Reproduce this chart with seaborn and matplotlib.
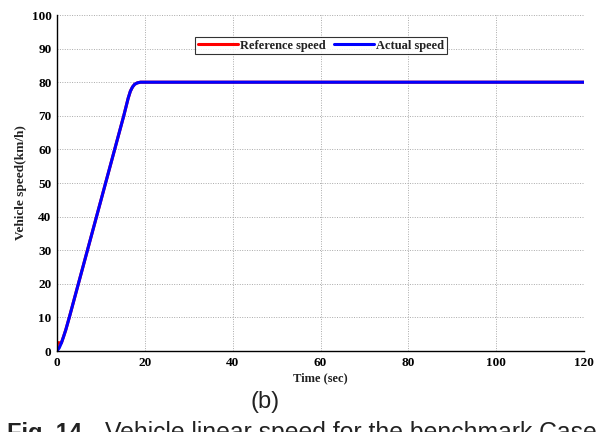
import matplotlib
matplotlib.use("Agg")
import matplotlib.pyplot as plt
import seaborn as sns
import pandas as pd

# Time samples (s) and speeds (km/h)
time_actual = [0, 0.5, 1.0, 1.5, 2.0, 2.8, 15.2, 15.7, 16.2, 16.7, 17.2, 17.7, 18.3, 19.0, 20.0, 120.0]
speed_actual = [0, 0.9, 2.4, 4.3, 6.3, 10, 70, 72.6, 75.2, 77.3, 78.6, 79.4, 79.8, 80, 80, 80]
time_reference = [0, 0.1, 1.0, 1.5, 2.0, 2.8, 15.2, 15.7, 16.2, 16.7, 17.2, 17.7, 18.3, 19.0, 20.0, 120.0]
speed_reference = [0, 2.5, 2.4, 4.3, 6.3, 10, 70, 72.6, 75.2, 77.3, 78.6, 79.4, 79.8, 80, 80, 80]

x_ticks = [0, 20, 40, 60, 80, 100, 120]
y_ticks = [0, 10, 20, 30, 40, 50, 60, 70, 80, 90, 100]

sns.set_style("white")
plt.rcParams["font.family"] = ["Liberation Serif", "DejaVu Serif"]

ref_df = pd.DataFrame({"t": time_reference, "v": speed_reference})
act_df = pd.DataFrame({"t": time_actual, "v": speed_actual})

fig = plt.figure(figsize=(6.03, 4.32), dpi=100)
ax = fig.add_axes([57 / 603, 1 - 351 / 432, (584 - 57) / 603, (351 - 15) / 432])

sns.lineplot(data=ref_df, x="t", y="v", ax=ax, color="#ff0000", linewidth=2.2,
             label="Reference speed", estimator=None, sort=False)
sns.lineplot(data=act_df, x="t", y="v", ax=ax, color="#0000ff", linewidth=2.2,
             label="Actual speed", estimator=None, sort=False)

ax.set_xlim(0, 120)
ax.set_ylim(0, 100)
ax.set_xticks(x_ticks)
ax.set_yticks(y_ticks)
ax.set_xticklabels([str(v) for v in x_ticks], fontsize=9.5, fontweight="bold", color="#222222")
ax.set_yticklabels([str(v) for v in y_ticks], fontsize=9.5, fontweight="bold", color="#222222")
ax.tick_params(direction="in", length=4, width=0.8, colors="black", pad=4)
ax.grid(True, linestyle=(0, (1, 1.5)), color="#aaaaaa", linewidth=0.7)

for side in ("left", "bottom"):
    ax.spines[side].set_color("black")
    ax.spines[side].set_linewidth(1.0)
for side in ("top", "right"):
    ax.spines[side].set_visible(False)

ax.set_xlabel("Time (sec)", fontsize=9, fontweight="bold", labelpad=3, color="#222222")
ax.set_ylabel("Vehicle speed(km/h)", fontsize=9.5, fontweight="bold", labelpad=3, color="#222222")

leg = ax.legend(loc="upper center", bbox_to_anchor=((321 - 57) / 527, 1 - (37 - 15) / 336),
                ncol=2, frameon=True, fancybox=False,
                prop={"weight": "bold", "size": 9}, handlelength=3.2,
                columnspacing=0.6, handletextpad=0.2, borderpad=0.2, borderaxespad=0)
leg.get_frame().set_edgecolor("black")
leg.get_frame().set_linewidth(0.8)
for txt in leg.get_texts():
    txt.set_color("#222222")

fig.text(265 / 603, 1 - 402 / 432, "(b)", ha="center", va="center",
         fontsize=17, family=["Liberation Sans", "DejaVu Sans"], color="#222222")
fig.text(7 / 603, 1 - 440 / 432, "Fig. 14", ha="left", va="baseline",
         fontsize=17, fontweight="bold", family=["Liberation Sans", "DejaVu Sans"], color="#222222")
fig.text(105 / 603, 1 - 440 / 432, "Vehicle linear speed for the benchmark Case",
         ha="left", va="baseline", fontsize=17.8, family=["Liberation Sans", "DejaVu Sans"],
         color="#222222")

fig.savefig("out.png", dpi=100)
